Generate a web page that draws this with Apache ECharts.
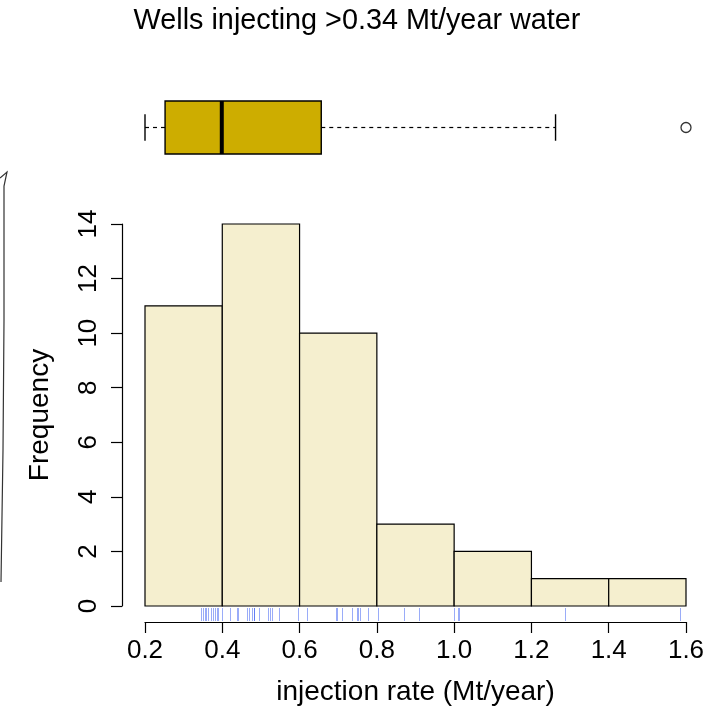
<!DOCTYPE html>
<html>
<head>
<meta charset="utf-8">
<script src="https://cdn.jsdelivr.net/npm/echarts@6/dist/echarts.min.js"></script>
<style>
  html, body { margin: 0; padding: 0; background: #fff; }
  #chart { width: 722px; height: 712px; }
</style>
</head>
<body>
<div id="chart"></div>
<script>
// Histogram bins (Mt/year) and well counts per bin
const binEdges = [0.2, 0.4, 0.6, 0.8, 1.0, 1.2, 1.4, 1.6];
const binCounts = [11, 14, 10, 3, 2, 1, 1];

// Individual well injection rates shown as a rug under the histogram
const rugRates = [
  0.345, 0.351, 0.355, 0.358, 0.364, 0.370, 0.375, 0.382, 0.387, 0.390, 0.398,
  0.420, 0.437, 0.441, 0.463, 0.470, 0.476, 0.482, 0.482, 0.496, 0.519, 0.524, 0.528, 0.548, 0.597,
  0.618, 0.693, 0.698, 0.709, 0.735, 0.748, 0.752, 0.756, 0.778, 0.802,
  0.870, 0.908, 1.000,
  1.009, 1.012,
  1.287,
  1.585
];

// Box plot summary: lower whisker, lower hinge, median, upper hinge, upper whisker
const boxStats = [0.345, 0.391, 0.521, 0.749, 1.286];
const boxOutliers = [1.585];

// X tick labels for the histogram axis
const xTicks = ['0.2', '0.4', '0.6', '0.8', '1.0', '1.2', '1.4', '1.6'];

const FONT = '"Liberation Sans", Arial, Helvetica, sans-serif';
const chart = echarts.init(document.getElementById('chart'), null, { renderer: 'canvas' });

const histData = binCounts.map((c, i) => [binEdges[i], binEdges[i + 1], c]);
const rangeMin = Math.min(...rugRates);
const rangeMax = Math.max(...rugRates);

chart.setOption({
  animation: false,
  backgroundColor: '#ffffff',
  title: {
    text: 'Wells injecting >0.34 Mt/year water',
    left: 352, top: 2, textAlign: 'center',
    textStyle: { fontFamily: FONT, fontSize: 28.8, fontWeight: 'normal', color: '#000' }
  },
  grid: [
    { left: 145, right: 36, top: 224, height: 382 },
    { left: 145, right: 36, top: 101, height: 53 }
  ],
  xAxis: [
    {
      gridIndex: 0, type: 'value', min: 0.2, max: 1.6, interval: 0.2,
      offset: 16,
      axisLine: { show: true, onZero: false, lineStyle: { color: '#000', width: 1.2 } },
      axisTick: { show: true, length: 11, lineStyle: { color: '#000', width: 1.2 } },
      axisLabel: {
        fontFamily: FONT, fontSize: 26, color: '#000', margin: 16,
        formatter: (v) => { const s = v.toFixed(1); return xTicks.includes(s) ? s : ''; }
      },
      splitLine: { show: false },
      name: 'injection rate (Mt/year)', nameLocation: 'middle', nameGap: 56,
      nameTextStyle: { fontFamily: FONT, fontSize: 28, color: '#000' }
    },
    {
      gridIndex: 1, type: 'value', min: rangeMin, max: rangeMax, show: false
    }
  ],
  yAxis: [
    {
      gridIndex: 0, type: 'value', min: 0, max: 14, interval: 2,
      offset: 23,
      axisLine: { show: true, onZero: false, lineStyle: { color: '#000', width: 1.2 } },
      axisTick: { show: true, length: 11, lineStyle: { color: '#000', width: 1.2 } },
      axisLabel: { fontFamily: FONT, fontSize: 26, color: '#000', rotate: 90, margin: 20 },
      splitLine: { show: false },
      name: 'Frequency', nameLocation: 'middle', nameRotate: 90, nameGap: 68,
      nameTextStyle: { fontFamily: FONT, fontSize: 28, color: '#000' }
    },
    {
      gridIndex: 1, type: 'value', min: 0, max: 1, show: false
    }
  ],
  graphic: [
    {
      type: 'polyline', silent: true,
      shape: { points: [[0, 178], [7, 172], [4, 186], [4, 320], [3, 450], [1, 582]] },
      style: { stroke: '#333', lineWidth: 1.2, fill: null }
    }
  ],
  series: [
    {
      // histogram bars
      type: 'custom', xAxisIndex: 0, yAxisIndex: 0,
      data: histData,
      encode: { x: [0, 1], y: 2 },
      renderItem: (params, api) => {
        const p0 = api.coord([api.value(0), api.value(2)]);
        const p1 = api.coord([api.value(1), 0]);
        return {
          type: 'rect',
          shape: { x: p0[0], y: p0[1], width: p1[0] - p0[0], height: p1[1] - p0[1] },
          style: { fill: '#F5EFCF', stroke: '#000', lineWidth: 1.2 }
        };
      }
    },
    {
      // rug of individual rates
      type: 'custom', xAxisIndex: 0, yAxisIndex: 0, clip: false,
      data: rugRates.map(v => [v, 0]),
      encode: { x: 0, y: 1 },
      renderItem: (params, api) => {
        const p = api.coord([api.value(0), 0]);
        const x = Math.round(p[0]) + 0.5;
        return {
          type: 'line',
          shape: { x1: x, y1: p[1] + 2, x2: x, y2: p[1] + 15 },
          style: { stroke: 'rgba(30,70,240,0.45)', lineWidth: 1 }
        };
      }
    },
    {
      // horizontal box plot
      type: 'custom', xAxisIndex: 1, yAxisIndex: 1, clip: false,
      data: [boxStats],
      encode: { x: [0, 1, 2, 3, 4] },
      renderItem: (params, api) => {
        const lo = api.coord([api.value(0), 0.5]);
        const q1 = api.coord([api.value(1), 1]);
        const med = api.coord([api.value(2), 0]);
        const q3 = api.coord([api.value(3), 0]);
        const hi = api.coord([api.value(4), 0.5]);
        const capTop = api.coord([api.value(0), 0.75])[1];
        const capBot = api.coord([api.value(0), 0.25])[1];
        const yMid = lo[1];
        const yTop = q1[1];
        const yBot = q3[1];
        const dash = { stroke: '#000', lineWidth: 1.2, lineDash: [4, 4] };
        const solid = { stroke: '#000', lineWidth: 1.4 };
        return {
          type: 'group',
          children: [
            { type: 'line', shape: { x1: lo[0], y1: yMid, x2: q1[0], y2: yMid }, style: dash },
            { type: 'line', shape: { x1: q3[0], y1: yMid, x2: hi[0], y2: yMid }, style: dash },
            { type: 'line', shape: { x1: lo[0], y1: capTop, x2: lo[0], y2: capBot }, style: solid },
            { type: 'line', shape: { x1: hi[0], y1: capTop, x2: hi[0], y2: capBot }, style: solid },
            { type: 'rect', shape: { x: q1[0], y: yTop, width: q3[0] - q1[0], height: yBot - yTop },
              style: { fill: '#CDAD00', stroke: '#000', lineWidth: 1.4 } },
            { type: 'line', shape: { x1: med[0], y1: yTop, x2: med[0], y2: yBot },
              style: { stroke: '#000', lineWidth: 4 } }
          ]
        };
      }
    },
    {
      // box plot outliers
      type: 'scatter', xAxisIndex: 1, yAxisIndex: 1,
      data: boxOutliers.map(v => [v, 0.5]),
      symbol: 'circle', symbolSize: 10,
      itemStyle: { color: '#fff', borderColor: '#000', borderWidth: 1.3 },
      silent: true
    }
  ]
});
</script>
</body>
</html>
